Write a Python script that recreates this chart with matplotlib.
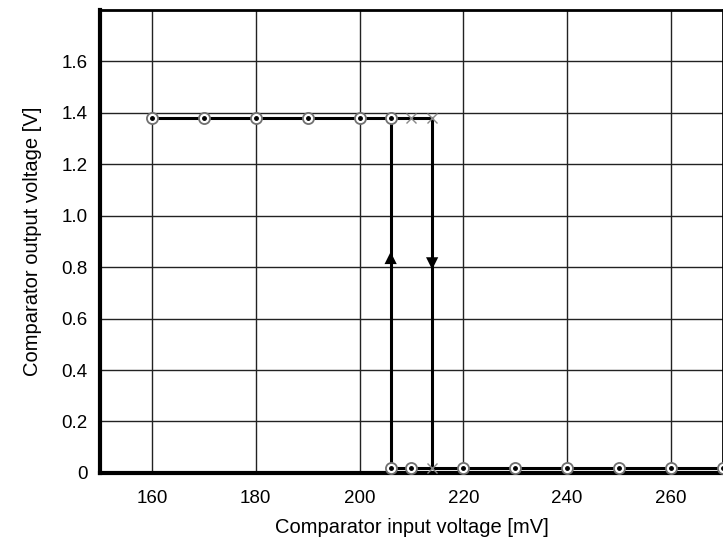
import matplotlib
matplotlib.use('Agg')
import matplotlib.pyplot as plt

plt.rcParams['font.family'] = ['Liberation Sans', 'DejaVu Sans']

# input sweep, circles
circ_high_x = [160, 170, 180, 190, 200, 206]
circ_high_y = [1.38, 1.38, 1.38, 1.38, 1.38, 1.38]
circ_low_x = [206, 210, 220, 230, 240, 250, 260, 270]
circ_low_y = [0.02, 0.02, 0.02, 0.02, 0.02, 0.02, 0.02, 0.02]

# cross markers
cross_high_x = [210, 214]
cross_high_y = [1.38, 1.38]
cross_low_x = [214]
cross_low_y = [0.02]

# hysteresis loop
loop_high_x = [160, 214]
loop_low_x = [206, 270]
v_up_x = 206
v_down_x = 214
level_high = 1.38
level_low = 0.02

fig = plt.figure(figsize=(7.23, 5.43), dpi=100)
ax = fig.add_axes([0.1385, 0.129, 0.861, 0.853])

ax.plot(loop_high_x, [level_high, level_high], color='black', lw=2.2, zorder=3)
ax.plot(loop_low_x, [level_low, level_low], color='black', lw=2.2, zorder=3)
ax.plot([v_up_x, v_up_x], [level_low, level_high], color='black', lw=2.2, zorder=3)
ax.plot([v_down_x, v_down_x], [level_low, level_high], color='black', lw=2.2, zorder=3)
ax.annotate('', xy=(v_up_x, 0.87), xytext=(v_up_x, 0.75),
            arrowprops=dict(arrowstyle='-|>', color='black', lw=0, mutation_scale=22), zorder=4)
ax.annotate('', xy=(v_down_x, 0.78), xytext=(v_down_x, 0.9),
            arrowprops=dict(arrowstyle='-|>', color='black', lw=0, mutation_scale=22), zorder=4)

ax.plot(circ_high_x, circ_high_y, ls='none', marker='o', ms=8, mfc='white', mec='#707070', mew=1.3, zorder=5)
ax.plot(circ_high_x, circ_high_y, ls='none', marker='o', ms=2.5, color='black', zorder=6)
ax.plot(circ_low_x, circ_low_y, ls='none', marker='o', ms=8, mfc='white', mec='#707070', mew=1.3, zorder=5, clip_on=False)
ax.plot(circ_low_x, circ_low_y, ls='none', marker='o', ms=2.5, color='black', zorder=6, clip_on=False)
ax.plot(cross_high_x, cross_high_y, ls='none', marker='x', ms=7, color='#888888', mew=1, zorder=5)
ax.plot(cross_low_x, cross_low_y, ls='none', marker='x', ms=7, color='#888888', mew=1, zorder=5)

ax.set_xlim(150, 270)
ax.set_ylim(0, 1.8)
ax.set_xticks([160, 180, 200, 220, 240, 260])
ax.set_yticks([0, 0.2, 0.4, 0.6, 0.8, 1.0, 1.2, 1.4, 1.6])
ax.set_yticklabels(['0', '0.2', '0.4', '0.6', '0.8', '1.0', '1.2', '1.4', '1.6'])
ax.grid(True, color='#222222', lw=1)
ax.set_axisbelow(True)
ax.tick_params(length=0, labelsize=13.5)
ax.tick_params(axis='x', pad=12)
ax.tick_params(axis='y', pad=9)

ax.spines['left'].set_linewidth(3)
ax.spines['bottom'].set_linewidth(3)
ax.spines['top'].set_linewidth(2)
ax.spines['right'].set_linewidth(2)

ax.set_xlabel('Comparator input voltage [mV]', fontsize=14.5, labelpad=8)
ax.set_ylabel('Comparator output voltage [V]', fontsize=14.5, labelpad=14)

fig.savefig('out.png', dpi=100)
